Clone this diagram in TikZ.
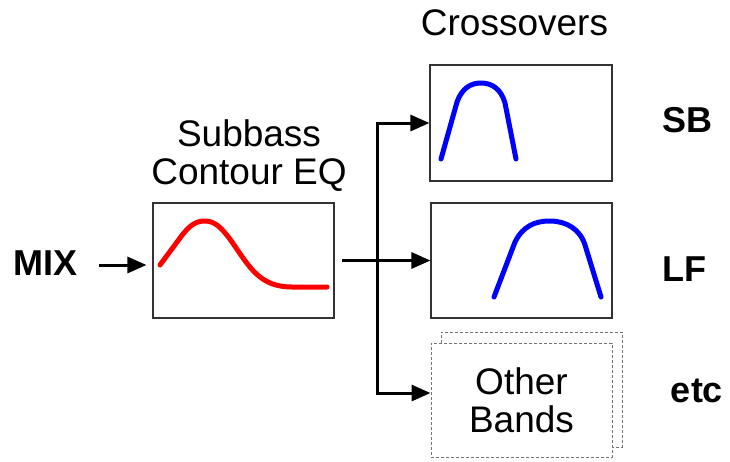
\documentclass[tikz,border=0pt]{standalone}
\usepackage{fontspec}
\setmainfont{Liberation Sans}
\usetikzlibrary{arrows.meta}
\begin{document}
\begin{tikzpicture}[x=1pt,y=-1pt,
  box/.style={draw=black!80, line width=1.1pt, fill=white, inner sep=0pt},
  dbox/.style={draw=black!55, line width=1pt, dash pattern=on 3pt off 2pt, fill=white, inner sep=0pt},
  arr/.style={line width=3pt, -{Triangle[length=19pt,width=16pt]}},
  lbl/.style={font=\fontsize{37}{38}\selectfont, inner sep=0pt, align=center},
  blbl/.style={font=\fontsize{36}{40}\selectfont\bfseries, inner sep=0pt, anchor=base},
  redc/.style={draw=red, line width=5pt, line cap=round, line join=round},
  bluec/.style={draw=blue, line width=5pt, line cap=round, line join=round}]
\path[use as bounding box] (0,0) rectangle (730,461);

% boxes
\node[box, minimum width=181pt, minimum height=115pt] (eq) at (243.5,260.5) {};
\node[box, minimum width=182pt, minimum height=116pt] (sb) at (521,123) {};
\node[box, minimum width=181pt, minimum height=115pt] (lf) at (521.5,260.5) {};
\node[dbox, minimum width=181pt, minimum height=115pt] (otherback) at (531.5,389.5) {};
\node[dbox, minimum width=181pt, minimum height=114pt, lbl] (other) at (521.5,400) {Other\\Bands};

% curves
\draw[redc] (160,265) -- (180,238) .. controls (190,224) and (197,221) .. (205,221)
  .. controls (215,221) and (222,228) .. (232,242)
  .. controls (250,268) and (260,287) .. (292,287) -- (327,287);
\draw[bluec] (441,159) -- (457,102) .. controls (462,88) and (471,83) .. (481,83)
  .. controls (492,83) and (501,89) .. (505,103) -- (516,159);
\draw[bluec] (494,297) -- (515,242) .. controls (523,226) and (535,221) .. (550,221)
  .. controls (566,221) and (580,229) .. (585,245) -- (601,297);

% labels
\node[lbl] (eqlabel) at (249,156) {Subbass\\Contour EQ};
\node[lbl, anchor=base] (xlabel) at (514.5,35) {Crossovers};
\node[blbl] (mix) at (46,275) {MIX};
\node[blbl] (sblabel) at (687,132) {SB};
\node[blbl] (lflabel) at (684,281) {LF};
\node[blbl] (etclabel) at (697,402) {etc};

% connectors
\coordinate (mixout) at (99,265);
\draw[arr, shorten >=6pt] (mixout) -- (mixout -| eq.west);
\coordinate (eqout) at (342,260.5);
\coordinate (split) at (377.5,260.5);
\draw[arr] (eqout) -- (lf.west);
\draw[arr] (split) |- (sb.west);
\draw[arr] (split) |- ([yshift=7pt]other.west);
\end{tikzpicture}
\end{document}
